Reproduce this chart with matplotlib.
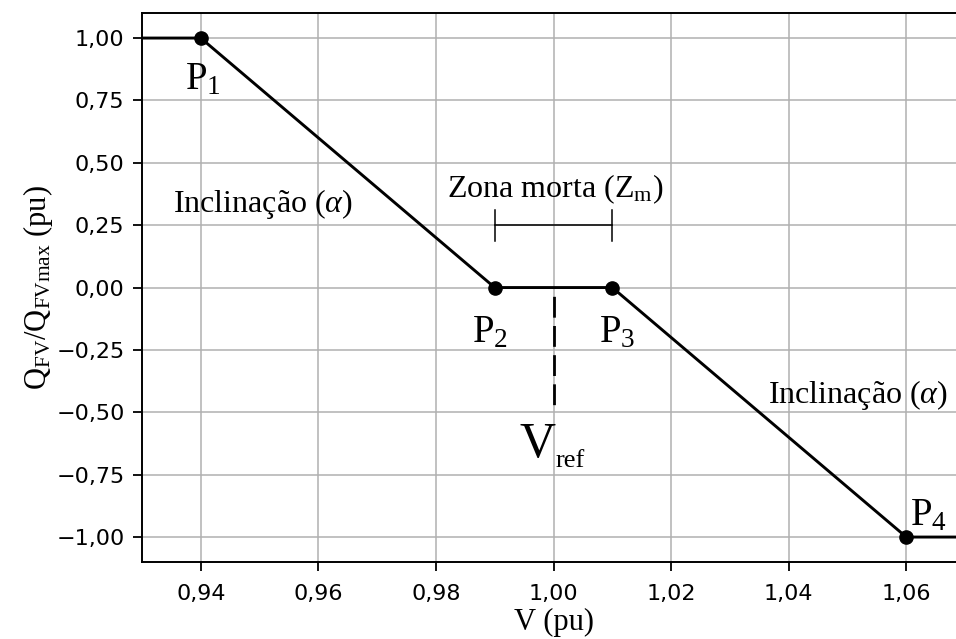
import matplotlib
matplotlib.use("Agg")
import matplotlib.pyplot as plt
from matplotlib.ticker import FuncFormatter

plt.rcParams['mathtext.fontset'] = 'custom'
plt.rcParams['mathtext.rm'] = 'Liberation Serif'
plt.rcParams['mathtext.it'] = 'Liberation Serif:italic'
plt.rcParams['axes.unicode_minus'] = True

# curva Volt-Var
v_curve = [0.93, 0.94, 0.99, 1.01, 1.06, 1.07]
q_curve = [1.0, 1.0, 0.0, 0.0, -1.0, -1.0]
v_pts = [0.94, 0.99, 1.01, 1.06]
q_pts = [1.0, 0.0, 0.0, -1.0]
p_labels = [r"P$_1$", r"P$_2$", r"P$_3$", r"P$_4$"]
p_label_pos = [(0.9373, 0.793), (0.9862, -0.221), (1.0077, -0.221), (1.0607, -0.954)]
v_ref = 1.00
v_ref_end = -0.48
zm_lo, zm_hi, zm_y = 0.99, 1.01, 0.25
xticks = [0.94, 0.96, 0.98, 1.00, 1.02, 1.04, 1.06]
yticks = [1.00, 0.75, 0.50, 0.25, 0.00, -0.25, -0.50, -0.75, -1.00]

fig = plt.figure(figsize=(9.56, 6.39), dpi=100)
ax = fig.add_axes([0.1485, 0.1205, 0.861, 0.859])

ax.plot(v_curve, q_curve, color='black', lw=2.1, zorder=3)
ax.plot(v_pts, q_pts, 'o', color='black', ms=9.5, zorder=4)
ax.plot([v_ref, v_ref], [0, v_ref_end], color='black', lw=2.0,
        linestyle=(7.5, (7.5, 3.0)), zorder=3)

# zona morta
ax.plot([zm_lo, zm_hi], [zm_y, zm_y], color='black', lw=1.1)
ax.plot([zm_lo, zm_lo], [zm_y - 0.062, zm_y + 0.062], color='black', lw=1.1)
ax.plot([zm_hi, zm_hi], [zm_y - 0.062, zm_y + 0.062], color='black', lw=1.1)

for lab, (x, y) in zip(p_labels, p_label_pos):
    ax.text(x, y, lab, fontsize=28, family='Liberation Serif', ha='left', va='baseline')

ax.text(1.0003, 0.395, r"Zona morta (Z$_{\rm m}$)", fontsize=23, family='Liberation Serif',
        ha='center', va='center')
ax.text(0.9505, 0.335, r"Inclinação ($\alpha$)", fontsize=23, family='Liberation Serif',
        ha='center', va='center')
ax.text(1.0518, -0.43, r"Inclinação ($\alpha$)", fontsize=23, family='Liberation Serif',
        ha='center', va='center')
ax.text(1.0003, -0.68, "V", fontsize=36, family='Liberation Serif', ha='right', va='baseline')
ax.text(1.0003, -0.72, "ref", fontsize=19, family='Liberation Serif', ha='left', va='baseline')

ax.set_xlim(0.93, 1.07)
ax.set_ylim(-1.1, 1.1)
ax.set_xticks(xticks)
ax.set_yticks(yticks)
fmt = FuncFormatter(lambda v, p: ("%.2f" % v).replace('.', ',').replace('-', '\u2212'))
ax.xaxis.set_major_formatter(fmt)
ax.yaxis.set_major_formatter(fmt)
ax.tick_params(labelsize=16, length=6.5, width=1.3)
ax.tick_params(axis='x', pad=9)
ax.tick_params(axis='y', pad=6)
ax.grid(True, color='#b0b0b0', lw=1.1)
for s in ax.spines.values():
    s.set_linewidth(1.4)

ax.set_xlabel("V (pu)", fontsize=22, family='Liberation Serif', labelpad=3)
ax.set_ylabel(r"Q$_{\rm FV}$/Q$_{\rm FVmax}$ (pu)", fontsize=22, family='Liberation Serif', labelpad=1)

fig.savefig("out.png", dpi=100)
